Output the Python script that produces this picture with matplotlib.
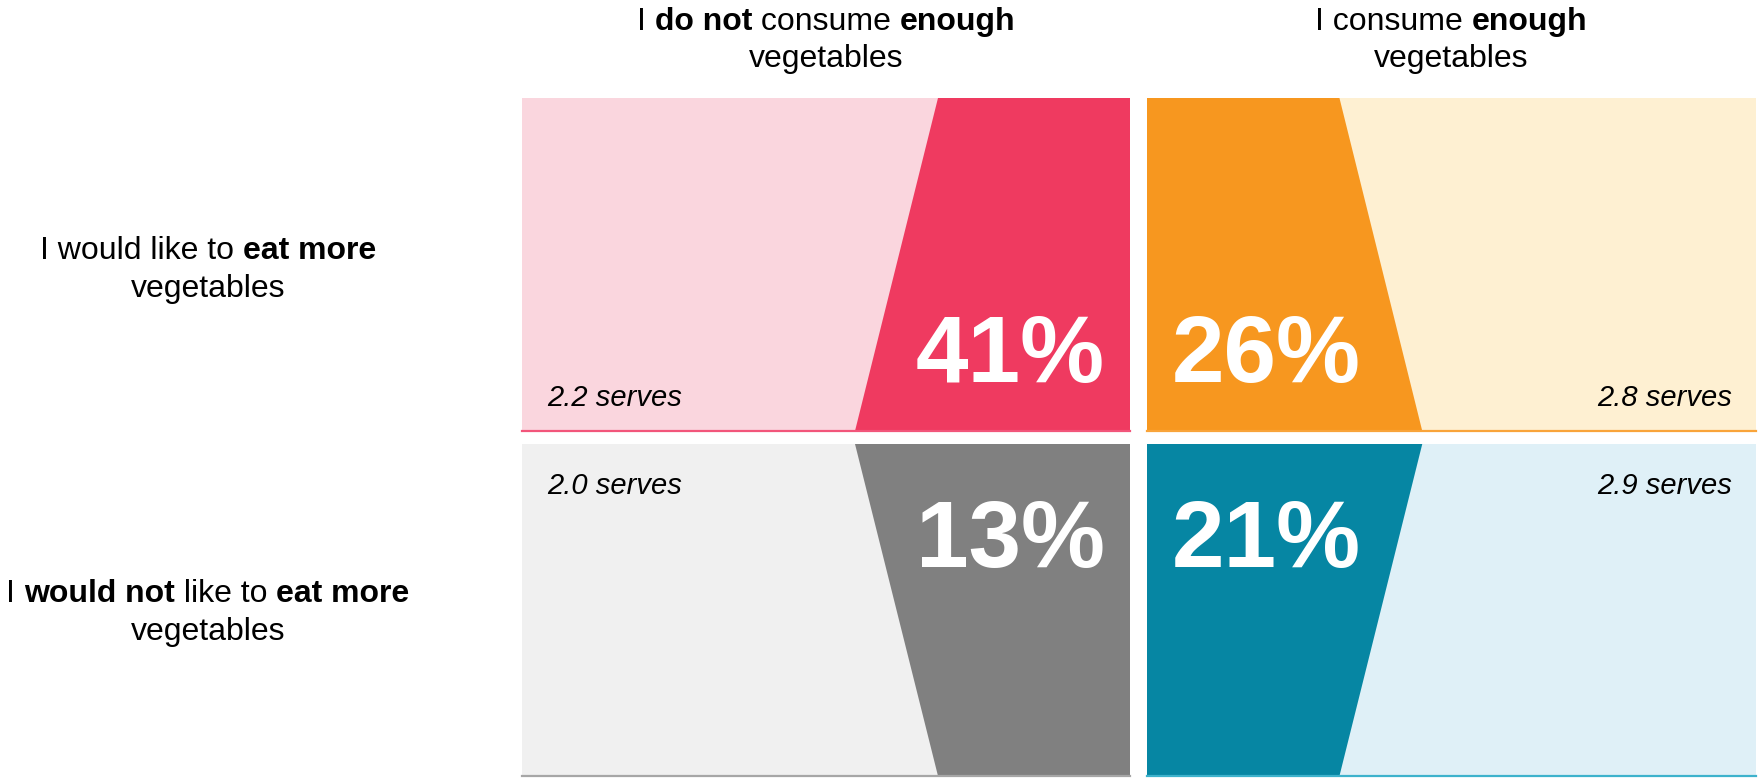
import matplotlib.pyplot as plt

plt.rcParams['font.family'] = ['Liberation Sans', 'DejaVu Sans']

W, H = 1760, 778

# column / row headings, split into (text, weight) runs
col_heads = [
    [[("I ", "normal"), ("do not", "bold"), (" consume ", "normal"), ("enough", "bold")],
     [("vegetables", "normal")]],
    [[("I consume ", "normal"), ("enough", "bold")],
     [("vegetables", "normal")]],
]
row_heads = [
    [[("I would like to ", "normal"), ("eat more", "bold")],
     [("vegetables", "normal")]],
    [[("I ", "normal"), ("would not", "bold"), (" like to ", "normal"), ("eat more", "bold")],
     [("vegetables", "normal")]],
]

shares = [[41, 26], [13, 21]]
serves = [[2.2, 2.8], [2.0, 2.9]]

dark = [["#EF3A60", "#F7971F"], ["#808080", "#0686A3"]]
light = [["#FAD6DE", "#FEF0D2"], ["#F0F0F0", "#DFF0F7"]]
edge = [["#F2557A", "#F9A43A"], ["#A6A6A6", "#3DB2CC"]]

# panel boxes in pixels (left, width) and (top, height)
cols = [(522, 608), (1147, 609)]
rows = [(98, 333), (444, 332)]
narrow, wide = 0.316, 0.452

fig = plt.figure(figsize=(W / 100, H / 100), dpi=100)
renderer = fig.canvas.get_renderer()


def text_width(s, size, weight):
    # bars on both sides keep leading/trailing spaces in the measurement
    t1 = fig.text(0, 0, "|" + s + "|", fontsize=size, fontweight=weight)
    t2 = fig.text(0, 0, "||", fontsize=size, fontweight=weight)
    w = t1.get_window_extent(renderer).width - t2.get_window_extent(renderer).width
    t1.remove()
    t2.remove()
    return w


def rich_line(cx, y, runs, size=23):
    widths = [text_width(s, size, w) for s, w in runs]
    x = cx - sum(widths) / 2
    for (s, w), wd in zip(runs, widths):
        fig.text(x / W, 1 - y / H, s, fontsize=size, fontweight=w,
                 ha='left', va='baseline', color='black')
        x += wd


for i, (top, h) in enumerate(rows):
    for j, (left, w) in enumerate(cols):
        ax = fig.add_axes([left / W, 1 - (top + h) / H, w / W, h / H])
        ax.set_xlim(0, 1)
        ax.set_ylim(0, 1)
        ax.set_facecolor(light[i][j])
        ax.set_xticks([])
        ax.set_yticks([])
        for side in ['top', 'left', 'right']:
            ax.spines[side].set_visible(False)
        ax.spines['bottom'].set_color(edge[i][j])
        ax.spines['bottom'].set_linewidth(1.6)

        bot = wide if i == 0 else narrow
        tp = narrow if i == 0 else wide
        if j == 0:
            xs = [1 - bot, 1, 1, 1 - tp]
        else:
            xs = [0, bot, tp, 0]
        ax.fill(xs, [0, 0, 1, 1], color=dark[i][j], lw=0)

        py = 0.147 if i == 0 else 0.63
        sy = 0.075 if i == 0 else 0.849
        if j == 0:
            ax.text(0.959, py, f"{shares[i][j]}%", ha='right', va='baseline',
                    fontsize=68, fontweight='bold', color='white')
            ax.text(0.041, sy, f"{serves[i][j]:.1f} serves", ha='left', va='baseline',
                    fontsize=21, style='italic', color='black')
        else:
            ax.text(0.041, py, f"{shares[i][j]}%", ha='left', va='baseline',
                    fontsize=68, fontweight='bold', color='white')
            ax.text(0.961, sy, f"{serves[i][j]:.1f} serves", ha='right', va='baseline',
                    fontsize=21, style='italic', color='black')

for j, (left, w) in enumerate(cols):
    rich_line(left + w / 2, 30, col_heads[j][0])
    rich_line(left + w / 2, 67, col_heads[j][1])

for i, base in enumerate([259, 602]):
    rich_line(208, base, row_heads[i][0])
    rich_line(208, base + 38, row_heads[i][1])

fig.savefig("out.png", dpi=100)
